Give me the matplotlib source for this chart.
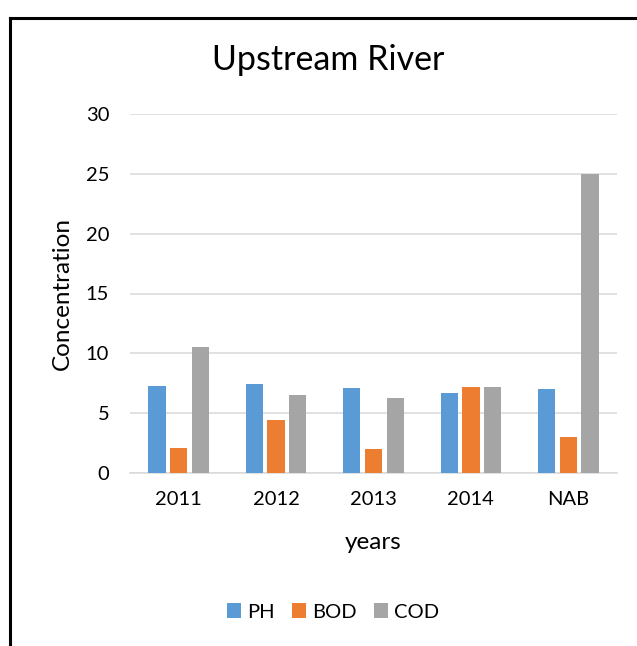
import numpy as np
import matplotlib
matplotlib.use("Agg")
import matplotlib.pyplot as plt
from matplotlib.lines import Line2D

plt.rcParams['font.family'] = ['Lato', 'DejaVu Sans']

years = ["2011", "2012", "2013", "2014", "NAB"]
ph = [7.3, 7.45, 7.1, 6.7, 7.0]
bod = [2.1, 4.4, 2.0, 7.15, 3.0]
cod = [10.55, 6.5, 6.25, 7.2, 25.0]

fig = plt.figure(figsize=(6.37, 6.46), dpi=100, facecolor="w")
ax = fig.add_axes([130/637, 1 - 473/646, 487/637, 359/646])

x = np.arange(len(years))
w = 0.178
step = 0.223
ax.bar(x - step, ph, w, color="#5B9BD5", label="PH", zorder=3)
ax.bar(x, bod, w, color="#ED7D31", label="BOD", zorder=3)
ax.bar(x + step, cod, w, color="#A5A5A5", label="COD", zorder=3)

ax.set_xlim(-0.5, len(years) - 0.5)
ax.set_ylim(0, 30)
ax.set_yticks(range(0, 31, 5))
ax.set_xticks(x)
ax.set_xticklabels(years)
ax.yaxis.grid(True, color="#D9D9D9", linewidth=1.1, zorder=0)
for s in ["top", "right", "left"]:
    ax.spines[s].set_visible(False)
ax.spines["bottom"].set_color("#D9D9D9")
ax.spines["bottom"].set_linewidth(1.1)
ax.tick_params(axis="both", length=0, labelsize=14.5, colors="#000000")
ax.tick_params(axis="y", pad=15)
ax.tick_params(axis="x", pad=13)

ax.set_xlabel("years", fontsize=17.5, labelpad=17)
ax.set_ylabel("Concentration", fontsize=17.5, labelpad=9)
fig.text(0.515, 1 - 60/646, "Upstream River", fontsize=24.5, ha="center", va="center")

fig.legend(loc="center", bbox_to_anchor=(0.523, 1 - 612/646), ncol=3, frameon=False,
           fontsize=14.5, handlelength=0.7, handleheight=0.7, handletextpad=0.3,
           columnspacing=0.85)

# outer frame (left and top only visible)
fig.add_artist(Line2D([9.5/637, 9.5/637], [0, 1 - 17.5/646], transform=fig.transFigure,
                      color="black", linewidth=2.2))
fig.add_artist(Line2D([9.5/637, 1], [1 - 17.5/646, 1 - 17.5/646], transform=fig.transFigure,
                      color="black", linewidth=2.2))

fig.savefig("out.png", dpi=100)
